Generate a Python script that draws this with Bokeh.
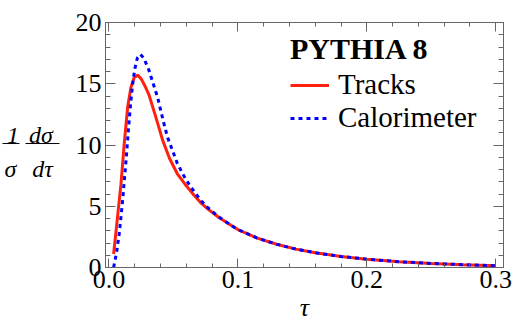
from bokeh.plotting import figure
from bokeh.layouts import row
from bokeh.models import (LinearAxis, SingleIntervalTicker, PrintfTickFormatter,
                          Legend, LegendItem, Range1d, ColumnDataSource, CustomLabelingPolicy)
from bokeh.core.properties import value
from bokeh.embed import file_html
from bokeh.resources import INLINE

# ---- data ----
tau_tracks = [0.0036, 0.0050, 0.0070, 0.0093, 0.0119, 0.0145, 0.0170, 0.0195, 0.0222, 0.0250,
              0.0280, 0.0310, 0.0360, 0.0416, 0.0470, 0.0530, 0.0590, 0.0640, 0.0710, 0.0770,
              0.0850, 0.0946, 0.1000, 0.1150, 0.1300, 0.1450, 0.1600, 0.1800, 0.2000, 0.2250,
              0.2500, 0.2750, 0.3000]
val_tracks = [1.1, 2.5, 4.5, 6.8, 10.2, 13.1, 14.7, 15.5, 15.7, 15.4,
              14.8, 14.1, 12.4, 10.4, 8.9, 7.65, 6.8, 6.15, 5.3, 4.75,
              4.1, 3.45, 3.1, 2.4, 1.9, 1.5, 1.2, 0.9, 0.68, 0.47,
              0.33, 0.23, 0.15]

tau_calo = [0.0036, 0.0060, 0.0080, 0.0106, 0.0132, 0.0155, 0.0170, 0.0184, 0.0200, 0.0220,
            0.0243, 0.0270, 0.0310, 0.0340, 0.0377, 0.0420, 0.0455, 0.0530, 0.0590, 0.0636,
            0.0710, 0.0765, 0.0850, 0.0946, 0.1000, 0.1150, 0.1300, 0.1450, 0.1600, 0.1800,
            0.2000, 0.2250, 0.2500, 0.2750, 0.3000]
val_calo = [0.0, 1.3, 2.8, 5.5, 8.7, 11.8, 13.6, 15.0, 16.2, 17.1,
            17.4, 17.1, 16.1, 15.1, 13.9, 12.0, 10.6, 8.5, 7.3, 6.55,
            5.5, 4.9, 4.15, 3.45, 3.1, 2.4, 1.9, 1.5, 1.2, 0.9,
            0.68, 0.47, 0.33, 0.23, 0.15]

series_names = ["Tracks", "Calorimeter"]
legend_title = "PYTHIA 8"
x_label = "τ"
# y-axis label pieces: (1/σ)(dσ/dτ)
ylab_texts = ["1", "σ", "dσ", "dτ"]

SERIF = "Liberation Serif"
FRAME = "#666666"
LEFT_W = 62
W, H = 515, 330
Y_RANGE = (0, 20)

# ---- small panel that carries the fraction-style y label ----
# (its frame is aligned with the main plot's frame by the row layout,
#  so it shares the main plot's vertical scale)
pl = figure(width=LEFT_W, height=H, output_backend="svg", toolbar_location=None,
            x_range=Range1d(0, LEFT_W), y_range=Range1d(*Y_RANGE),
            x_axis_location=None, y_axis_location=None,
            min_border=0, outline_line_color=None)
pl.grid.visible = False
pl.text(x=[12.5, 10, 40.5, 42], y=[10.78, 8.08, 10.78, 8.08], text=ylab_texts,
        text_font=value(SERIF), text_font_style="italic", text_font_size="24px",
        text_align="center", text_baseline="alphabetic", text_color="black")
pl.segment(x0=[2, 25], x1=[19, 59], y0=[10.12, 10.12], y1=[10.12, 10.12],
           line_color="black", line_width=1)

# ---- main plot ----
p = figure(width=W - LEFT_W, height=H, output_backend="svg", toolbar_location=None,
           x_range=Range1d(-0.0027, 0.306), y_range=Range1d(*Y_RANGE),
           x_axis_location=None, y_axis_location=None,
           min_border_left=105 - LEFT_W, min_border_right=12,
           min_border_top=22, min_border_bottom=63)
p.background_fill_color = "white"
p.border_fill_color = "white"
p.outline_line_color = FRAME
p.outline_line_width = 1
p.grid.visible = False

no_labels = CustomLabelingPolicy(code="for (const i of indices) indices.unset(i)")

def make_axis(interval, fmt, labels=True, maj=9, mnr=4):
    ax = LinearAxis(ticker=SingleIntervalTicker(interval=interval, num_minor_ticks=5),
                    formatter=PrintfTickFormatter(format=fmt))
    ax.axis_line_color = FRAME
    ax.major_tick_line_color = FRAME
    ax.minor_tick_line_color = FRAME
    ax.major_tick_in = maj
    ax.major_tick_out = 0
    ax.minor_tick_in = mnr
    ax.minor_tick_out = 0
    ax.major_label_text_font = SERIF
    ax.major_label_text_color = "black"
    ax.major_label_text_font_size = "26px"
    if not labels:
        ax.major_label_policy = no_labels
        ax.major_label_text_font_size = "0px"
        ax.major_label_standoff = 0
    return ax

xb = make_axis(0.1, "%.1f", True, 9, 4)
xb.major_label_standoff = 3
xb.axis_label = x_label
xb.axis_label_text_font = SERIF
xb.axis_label_text_font_style = "italic"
xb.axis_label_text_font_size = "26px"
xb.axis_label_text_color = "black"
xb.axis_label_standoff = 2
p.add_layout(xb, "below")
p.add_layout(make_axis(0.1, "%.1f", False, 9, 4), "above")
yl = make_axis(5, "%d", True, 10, 5)
yl.major_label_standoff = 4
p.add_layout(yl, "left")
p.add_layout(make_axis(5, "%d", False, 10, 5), "right")

src_t = ColumnDataSource(dict(x=tau_tracks, y=val_tracks))
src_c = ColumnDataSource(dict(x=tau_calo, y=val_calo))
r_t = p.line("x", "y", source=src_t, line_color="#ff2010", line_width=3)
r_c = p.line("x", "y", source=src_c, line_color="#0000ff", line_width=3, line_dash="4 4")

legend = Legend(items=[LegendItem(label=series_names[0], renderers=[r_t]),
                       LegendItem(label=series_names[1], renderers=[r_c])],
                location="top_right", title=legend_title,
                title_text_font=SERIF, title_text_font_style="bold", title_text_font_size="30px",
                title_text_color="black", title_standoff=2,
                label_text_font=SERIF, label_text_font_size="29px", label_text_color="black",
                glyph_width=39, label_standoff=9, label_width=155,
                padding=0, margin=10, spacing=-3,
                border_line_alpha=0, background_fill_alpha=0)
p.add_layout(legend)

layout = row(pl, p, spacing=0)
open("out.html", "w").write(file_html(layout, INLINE))
